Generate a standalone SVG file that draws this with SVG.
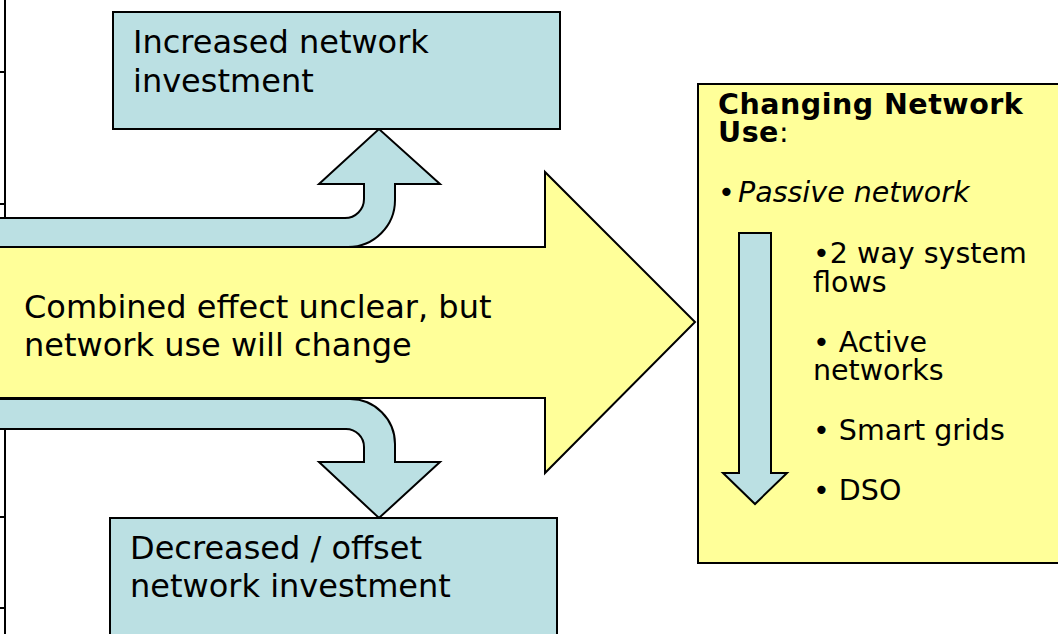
<svg xmlns="http://www.w3.org/2000/svg" width="1058" height="634" viewBox="0 0 1058 634">
<style>
.blue{fill:#BBE0E3;stroke:#000;stroke-width:2}
.yel{fill:#FFFF99;stroke:#000;stroke-width:2}
.t{font-family:"DejaVu Sans",Verdana,sans-serif;font-size:32px;fill:#000}
.r{font-family:"DejaVu Sans",Verdana,sans-serif;font-size:28.5px;fill:#000}
.b{font-weight:bold;letter-spacing:0.5px}
.i{font-style:italic}
</style>
<rect x="0" y="0" width="1058" height="634" fill="#fff"/>
<g id="axis" stroke="#000" stroke-width="2" fill="none">
<line x1="5" y1="0" x2="5" y2="634"/>
<line x1="0" y1="72" x2="5" y2="72"/>
<line x1="0" y1="204" x2="5" y2="204"/>
<line x1="0" y1="337" x2="5" y2="337"/>
<line x1="0" y1="428" x2="5" y2="428"/>
<line x1="0" y1="517" x2="5" y2="517"/>
<line x1="0" y1="608" x2="5" y2="608"/>
</g>
<g id="connectors">
<path class="blue" d="M-2,218 H345 A19,19 0 0 0 364,199 V184 H319 L379,129 L440,184 H395 V200 A47,47 0 0 1 348,247 H-2 Z"/>
<path class="blue" d="M-2,399 H350 A45,45 0 0 1 395,444 V462 H440 L379,518 L319,462 H364 V447 A18,18 0 0 0 346,429 H-2 Z"/>
</g>
<g id="main-arrow">
<path class="yel" d="M-2,247 H545 V172 L695,322 L545,473 V398 H-2 Z"/>
<text class="t" x="24" y="318">Combined effect unclear, but<tspan x="24" y="356">network use will change</tspan></text>
</g>
<g id="increased">
<rect class="blue" x="113" y="12" width="447" height="117"/>
<text class="t" x="133" y="53">Increased network<tspan x="133" y="92">investment</tspan></text>
</g>
<g id="decreased">
<rect class="blue" x="110" y="518" width="447" height="130"/>
<text class="t" x="130" y="559">Decreased / offset<tspan x="130" y="597">network investment</tspan></text>
</g>
<g id="changing">
<rect class="yel" x="698" y="84" width="380" height="479"/>
<text class="r" x="718" y="114"><tspan class="b">Changing Network</tspan><tspan x="718" y="142" class="b">Use</tspan>:</text>
<text class="r" x="718" y="202">•<tspan class="i" x="738">Passive network</tspan></text>
<path class="blue" d="M739,233 H771 V473 H787 L755,504 L723,473 H739 Z"/>
<text class="r" x="813" y="263">•2 way system<tspan x="813" y="292">flows</tspan></text>
<text class="r" x="813" y="352">• Active<tspan x="813" y="380">networks</tspan></text>
<text class="r" x="813" y="440">• Smart grids</text>
<text class="r" x="813" y="500">• DSO</text>
</g>
</svg>
